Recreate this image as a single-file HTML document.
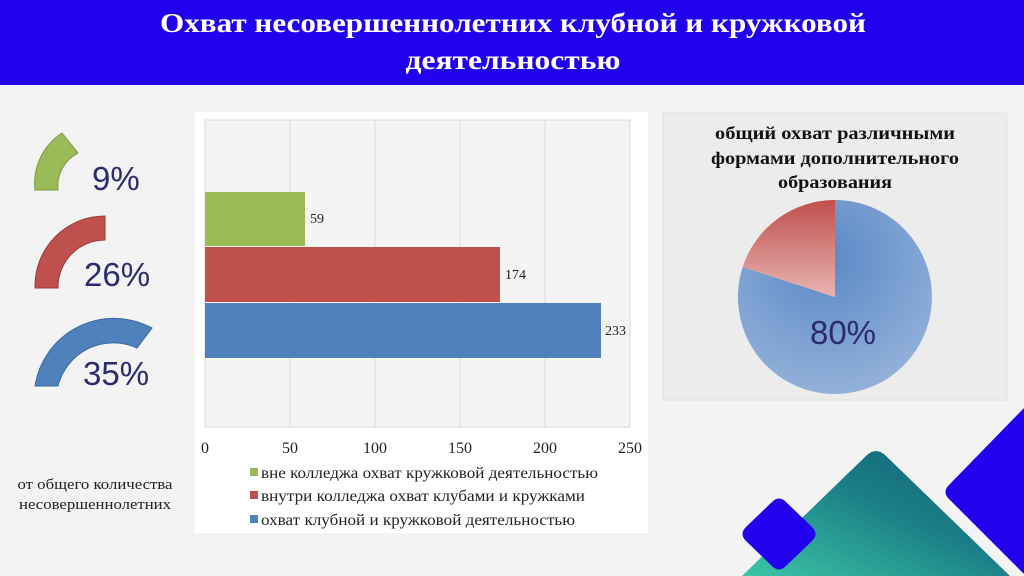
<!DOCTYPE html>
<html><head><meta charset="utf-8"><style>
html,body{margin:0;padding:0;width:1024px;height:576px;overflow:hidden;background:#f3f3f3}
svg{display:block}
</style></head><body>
<svg width="1024" height="576" viewBox="0 0 1024 576" xmlns="http://www.w3.org/2000/svg">
<defs>
<linearGradient id="teal" x1="0" y1="1" x2="1" y2="0">
<stop offset="0" stop-color="#3cc6a6"/><stop offset="0.55" stop-color="#1a7e86"/><stop offset="1" stop-color="#0f5f78"/>
</linearGradient>
<radialGradient id="pb" cx="0.45" cy="0.3" r="0.8"><stop offset="0" stop-color="#5a88c6"/><stop offset="1" stop-color="#9ab6dc"/></radialGradient>
<linearGradient id="pr" x1="0" y1="0" x2="0" y2="1"><stop offset="0" stop-color="#c0504d"/><stop offset="1" stop-color="#e8b4b2"/></linearGradient>
</defs>
<rect width="1024" height="576" fill="#f3f3f3"/>
<rect width="1024" height="85" fill="#2200ee"/>
<g font-family="Liberation Serif, serif" font-weight="bold" fill="#fff" font-size="27" text-anchor="middle">
<text x="513" y="32" textLength="706" lengthAdjust="spacingAndGlyphs">Охват несовершеннолетних клубной и кружковой</text>
<text x="513" y="69" textLength="215" lengthAdjust="spacingAndGlyphs">деятельностью</text>
</g>
<path d="M35 190 A60 60 0 0 1 62 133 L78 153 A37 37 0 0 0 58 190 Z" fill="#9bbb59" stroke="#7a9a40"/>
<path d="M35 288 A70 70 0 0 1 105 216 L105 240 A47 47 0 0 0 58 288 Z" fill="#c0504d" stroke="#9a3a38"/>
<path d="M35 386 A80 80 0 0 1 152 328 L137 348 A57 57 0 0 0 58 386 Z" fill="#4f81bd" stroke="#3a6a9e"/>
<g font-family="Liberation Sans, sans-serif" fill="#2e2a6e" font-size="33">
<text x="92" y="190">9%</text><text x="84" y="286">26%</text><text x="83" y="385">35%</text>
</g>
<g font-family="Liberation Serif, serif" font-size="15" fill="#222" text-anchor="middle">
<text x="95" y="489" textLength="155" lengthAdjust="spacingAndGlyphs">от общего количества</text><text x="95" y="509" textLength="152" lengthAdjust="spacingAndGlyphs">несовершеннолетних</text>
</g>
<rect x="195" y="112" width="453" height="421" fill="#fff"/>
<rect x="205" y="120" width="425" height="307" fill="#f4f4f4" stroke="#d9d9d9"/>
<g stroke="#dddddd"><line x1="290" y1="120" x2="290" y2="427"/><line x1="375" y1="120" x2="375" y2="427"/><line x1="460" y1="120" x2="460" y2="427"/><line x1="545" y1="120" x2="545" y2="427"/></g>
<rect x="205" y="192" width="100" height="54" fill="#9bbb59"/>
<rect x="205" y="247" width="295" height="55" fill="#c0504d"/>
<rect x="205" y="303" width="396" height="55" fill="#4f81bd"/>
<g font-family="Liberation Serif, serif" font-size="14" fill="#222">
<text x="310" y="223">59</text><text x="505" y="279">174</text><text x="605" y="335">233</text>
</g>
<g font-family="Liberation Serif, serif" font-size="16" fill="#222" text-anchor="middle">
<text x="205" y="453">0</text><text x="290" y="453">50</text><text x="375" y="453">100</text><text x="460" y="453">150</text><text x="545" y="453">200</text><text x="630" y="453">250</text>
</g>
<rect x="250" y="468" width="8" height="8" fill="#9bbb59"/>
<rect x="250" y="491" width="8" height="8" fill="#c0504d"/>
<rect x="250" y="515" width="8" height="8" fill="#4f81bd"/>
<g font-family="Liberation Serif, serif" font-size="16" fill="#222">
<text x="261" y="478" textLength="337" lengthAdjust="spacingAndGlyphs">вне колледжа охват кружковой деятельностью</text>
<text x="261" y="501" textLength="324" lengthAdjust="spacingAndGlyphs">внутри колледжа охват клубами и кружками</text>
<text x="261" y="525" textLength="314" lengthAdjust="spacingAndGlyphs">охват клубной и кружковой деятельностью</text>
</g>
<rect x="663" y="113" width="344" height="287" fill="#ececec" stroke="#e0e0e0"/>
<g font-family="Liberation Serif, serif" font-weight="bold" font-size="18" fill="#111" text-anchor="middle">
<text x="835" y="139" textLength="240" lengthAdjust="spacingAndGlyphs">общий охват различными</text>
<text x="835" y="164" textLength="248" lengthAdjust="spacingAndGlyphs">формами дополнительного</text>
<text x="835" y="188" textLength="114" lengthAdjust="spacingAndGlyphs">образования</text>
</g>
<path d="M835 297 L835 200 A97 97 0 1 1 742.7 267 Z" fill="url(#pb)"/>
<path d="M835 297 L742.7 267 A97 97 0 0 1 835 200 Z" fill="url(#pr)"/>
<text x="843" y="344" font-family="Liberation Sans, sans-serif" font-size="33" fill="#2e2a6e" text-anchor="middle">80%</text>
<path d="M866 456 Q876 446 886 456 L1010 576 L742 576 Z" fill="url(#teal)"/>
<path d="M772 502 Q779 495 786 502 L812 527 Q819 534 812 541 L786 566 Q779 573 772 566 L746 541 Q739 534 746 527 Z" fill="#2200ee"/>
<path d="M1024 408 L949 485 Q942 492 949 499 L1024 574 Z" fill="#2200ee"/>
</svg>
</body></html>
